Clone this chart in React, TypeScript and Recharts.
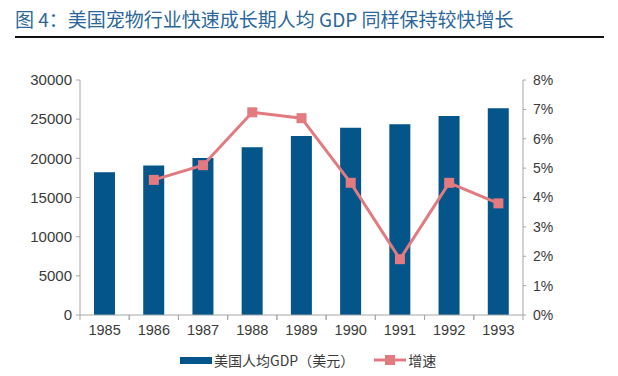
import React from 'react';
import { ComposedChart, Bar, Line, XAxis, YAxis } from 'recharts';

const years = ['1985', '1986', '1987', '1988', '1989', '1990', '1991', '1992', '1993'];
const gdpPerCapita = [18237, 19071, 20039, 21417, 22857, 23889, 24342, 25419, 26387];
const growth = [null, 4.6, 5.1, 6.9, 6.7, 4.5, 1.9, 4.5, 3.8];
const leftTicks = [0, 5000, 10000, 15000, 20000, 25000, 30000];
const rightTicks = [0, 1, 2, 3, 4, 5, 6, 7, 8];

const BAR_COLOR = '#03558a';
const LINE_COLOR = '#e27a80';
const AXIS_COLOR = '#a6a6a6';
const TEXT_COLOR = '#3a3a3a';
const FONT = '"Liberation Sans", Arial, sans-serif';

const data = years.map((year, i) => ({ year, gdp: gdpPerCapita[i], growth: growth[i] }));

const SquareDot = (props: any) => {
    const { cx, cy, value } = props;
    if (value == null || cx == null || cy == null) return null;
    return <rect x={cx - 5} y={cy - 5} width={10} height={10} fill={LINE_COLOR} />;
};

// category label plus small tick marks on the band edges
const XTick = (props: any) => {
    const { x, y, payload } = props;
    const half = 24.6;
    return (
        <g>
            <line x1={x - half} y1={y - 8} x2={x - half} y2={y - 3} stroke={AXIS_COLOR} />
            <line x1={x + half} y1={y - 8} x2={x + half} y2={y - 3} stroke={AXIS_COLOR} />
            <text x={x} y={y + 12} textAnchor="middle" fill={TEXT_COLOR} fontSize={14.5} fontFamily={FONT}>
                {payload.value}
            </text>
        </g>
    );
};

const LegendBlock = () => (
    <div
        style={{
            position: 'absolute',
            top: 350,
            left: 180,
            display: 'flex',
            alignItems: 'center',
            fontFamily: '"Noto Sans CJK SC", sans-serif',
            fontSize: 14,
            color: TEXT_COLOR,
        }}
    >
        <span style={{ display: 'inline-block', width: 32, height: 7, background: BAR_COLOR, marginRight: 2 }} />
        <span>美国人均GDP（美元）</span>
        <svg width={32} height={12} style={{ marginLeft: 20, marginRight: 2 }}>
            <line x1={0} y1={6} x2={32} y2={6} stroke={LINE_COLOR} strokeWidth={3} />
            <rect x={11} y={1} width={10} height={10} fill={LINE_COLOR} />
        </svg>
        <span>增速</span>
    </div>
);

export default function App() {
    return (
        <div style={{ position: 'relative', width: 618, height: 376, background: '#fff', overflow: 'hidden' }}>
            <style>{'body { margin: 0; }'}</style>

            {/* Title */}
            <div
                style={{
                    position: 'absolute',
                    top: 5,
                    left: 15,
                    fontFamily: '"Noto Sans CJK SC", sans-serif',
                    fontSize: 19,
                    color: '#2b679b',
                    whiteSpace: 'nowrap',
                }}
            >
                图 4：美国宠物行业快速成长期人均 GDP 同样保持较快增长
            </div>
            <div style={{ position: 'absolute', top: 36, left: 15, width: 589, height: 2, background: '#111' }} />

            <div style={{ position: 'absolute', top: 0, left: 0 }}>
                <ComposedChart
                    width={618}
                    height={376}
                    data={data}
                    margin={{ top: 80, right: 35, bottom: 31, left: 8 }}
                >
                    <XAxis
                        dataKey="year"
                        stroke={AXIS_COLOR}
                        tickLine={false}
                        tick={<XTick />}
                        height={30}
                        interval={0}
                    />
                    <YAxis
                        yAxisId="left"
                        domain={[0, 30000]}
                        ticks={leftTicks}
                        width={72}
                        stroke={AXIS_COLOR}
                        tickSize={4}
                        tickMargin={4}
                        tick={{ fill: TEXT_COLOR, fontSize: 15, fontFamily: FONT }}
                        interval={0}
                    />
                    <YAxis
                        yAxisId="right"
                        orientation="right"
                        domain={[0, 8]}
                        ticks={rightTicks}
                        width={60}
                        stroke={AXIS_COLOR}
                        tickSize={3}
                        tickMargin={7}
                        tickFormatter={(v: number) => `${v}%`}
                        tick={{ fill: TEXT_COLOR, fontSize: 14, fontFamily: FONT, textAnchor: 'start' }}
                        interval={0}
                    />
                    <Bar yAxisId="left" dataKey="gdp" fill={BAR_COLOR} barSize={21} isAnimationActive={false} />
                    <Line
                        yAxisId="right"
                        dataKey="growth"
                        stroke={LINE_COLOR}
                        strokeWidth={3}
                        dot={<SquareDot />}
                        activeDot={false}
                        connectNulls={false}
                        isAnimationActive={false}
                    />
                </ComposedChart>
            </div>

            <LegendBlock />
        </div>
    );
}
